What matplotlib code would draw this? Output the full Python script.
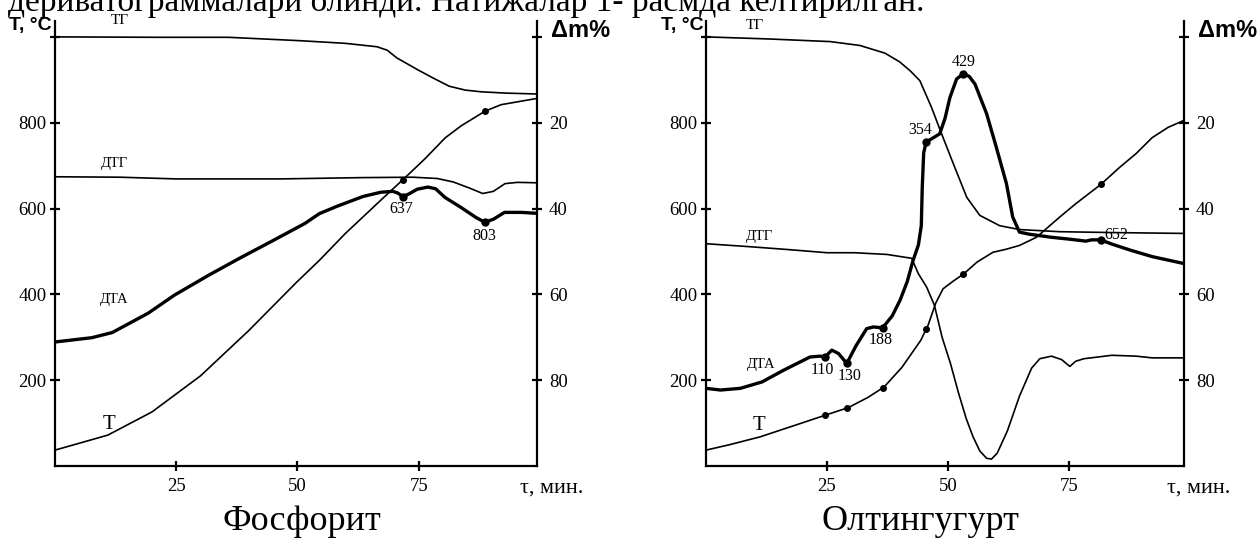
import matplotlib
matplotlib.use("Agg")
import matplotlib.pyplot as plt
import numpy as np

plt.rcParams['font.family'] = ['Liberation Serif', 'DejaVu Serif']

# Фосфорит: time (min) and readings
phos_time_t = [0, 10.9, 20.0, 30.0, 39.9, 49.8, 54.5, 59.8, 68.0, 72.2, 76.3, 80.5, 83.8, 88.7, 92.0, 99.1]
phos_t = [37, 72, 126, 210, 315, 428, 479, 541, 628, 672, 716, 765, 793, 827, 842, 856]

phos_time_dta = [0, 7.6, 11.8, 19.2, 24.6, 31.6, 38.2, 44.9, 51.5, 54.5, 58.1, 63.5, 67.2, 69.7, 70.7,
                 71.7, 73.0, 74.7, 76.9, 78.5, 80.4, 83.8, 86.7, 88.6, 90.4, 92.7, 96.2, 99.1]
phos_dta = [289, 299, 311, 356, 398, 444, 485, 525, 565, 588, 605, 628, 638, 640, 636,
            628, 634, 645, 650, 646, 626, 602, 580, 568, 575, 591, 591, 589]

phos_time_dtg = [0, 13.4, 25.0, 46.5, 63.1, 73.8, 78.8, 82.1, 85.4, 88.2, 90.4, 92.8, 95.4, 99.1]
phos_dtg = [674, 673, 669, 669, 672, 673, 670, 662, 648, 635, 640, 658, 661, 660]

phos_time_tg = [0, 21.7, 35.8, 50.7, 59.8, 66.4, 68.5, 70.5, 74.7, 78.0, 81.3, 84.6, 87.9, 92.9, 99.1]
phos_tg = [0, 0.1, 0.1, 0.9, 1.5, 2.3, 3.1, 4.9, 7.6, 9.6, 11.5, 12.4, 12.8, 13.1, 13.3]  # Δm, %

phos_peaks = [71.7, 88.6]
phos_peak_labels = ['637', '803']

# Олтингугурт
sulf_time_t = [0, 5.0, 11.2, 19.5, 24.8, 29.4, 33.5, 36.8, 40.5, 44.4, 45.9, 47.5, 49.0, 51.0,
               53.3, 56.0, 59.3, 62.0, 64.8, 68.3, 73.1, 76.4, 81.6, 85.5, 88.9, 92.2, 95.5, 98.7]
sulf_t = [37, 50, 68, 99, 119, 136, 160, 184, 230, 293, 328, 380, 413, 430,
          448, 475, 498, 505, 514, 533, 580, 611, 656, 696, 728, 765, 789, 805]

sulf_time_dta = [0, 3.0, 7.1, 11.6, 16.0, 21.5, 23.6, 24.6, 26.0, 27.4, 29.1, 31.0, 33.2, 34.6, 36.5,
                 38.5, 40.1, 41.6, 42.8, 43.9, 44.5, 44.7, 45.0, 45.5, 47.0, 48.3, 49.4, 50.4, 51.8,
                 53.2, 54.4, 55.6, 58.0, 60.0, 62.1, 63.4, 64.8, 66.9, 71.4, 75.6, 78.5, 79.7, 81.6,
                 83.9, 88.0, 92.2, 98.7]
sulf_dta = [181, 177, 181, 196, 223, 254, 256, 254, 270, 262, 239, 280, 320, 324, 322,
            350, 386, 430, 479, 515, 560, 650, 730, 755, 765, 774, 810, 858, 902,
            914, 908, 890, 821, 743, 658, 580, 545, 540, 533, 528, 524, 527, 527,
            517, 502, 488, 472]

sulf_time_dtg = [0, 9.1, 17.4, 25.0, 30.7, 37.4, 42.5, 43.9, 45.6, 47.2, 48.8, 50.5, 52.2, 53.8,
                 55.2, 56.6, 58.0, 59.0, 60.2, 62.3, 64.8, 67.3, 69.0, 71.4, 73.5, 75.2, 76.4,
                 78.1, 83.9, 88.9, 92.2, 98.7]
sulf_dtg = [518, 511, 504, 497, 497, 493, 484, 448, 417, 375, 300, 240, 170, 110,
            68, 35, 18, 16, 30, 82, 163, 228, 250, 256, 248, 232, 244,
            250, 258, 256, 252, 252]

sulf_time_tg = [0, 13.3, 25.7, 31.8, 37.0, 40.0, 42.2, 44.2, 46.6, 48.7, 51.1, 53.9, 56.6, 60.7,
                64.8, 73.1, 83.9, 98.7]
sulf_tg = [0, 0.5, 1.1, 2.0, 3.8, 5.8, 7.9, 10.2, 16.4, 22.6, 29.5, 37.4, 41.6, 44.0,
           44.9, 45.4, 45.6, 45.8]  # Δm, %

sulf_peaks = [24.6, 29.1, 36.5, 45.5, 53.2, 81.6]
sulf_peak_labels = ['110', '130', '188', '354', '429', '652']

t_ticks = [200, 400, 600, 800, 1000]
t_ticklabels = ['200', '400', '600', '800', '']
dm_ticks = [80, 60, 40, 20, 0]
dm_ticklabels = ['80', '60', '40', '20', '']
time_ticks = [25, 50, 75]

T_TOP = 1037
fig = plt.figure(figsize=(12.6, 5.39), dpi=100)

fig.text(8 / 1260, 1 - 11 / 539, 'дериватограммалари олинди. Натижалар 1- расмда келтирилган.',
         fontsize=24, va='baseline', ha='left')


def draw_panel(rect, xmax, tt, t, td, dta, tg_x, tg, tdg, dtg, peaks, peak_labels,
               label_offsets, curve_labels):
    ax = fig.add_axes(rect)
    ax2 = ax.twinx()
    ax.set_xlim(0, xmax)
    ax.set_ylim(0, T_TOP)
    ax2.set_ylim(100, 100 - T_TOP / 10)

    thin = dict(color='black', lw=1.2, solid_joinstyle='round')
    ax.plot(tt, t, **thin)
    ax.plot(tdg, dtg, **thin)
    ax.plot(td, dta, color='black', lw=2.4, solid_joinstyle='round', solid_capstyle='round')
    ax2.plot(tg_x, tg, **thin)

    # peaks on ДТА and the matching points on T
    py = np.interp(peaks, td, dta)
    ax.plot(peaks, py, 'o', color='black', ms=5)
    ax.plot(peaks, np.interp(peaks, tt, t), 'o', color='black', ms=4)
    for x, y, s, off in zip(peaks, py, peak_labels, label_offsets):
        ax.annotate(s, (x, y), xytext=off, textcoords='offset points',
                    ha='center', va='center', fontsize=11.5)

    for (x, y, s, fs) in curve_labels:
        ax.text(x, y, s, fontsize=fs, ha='center', va='center')

    for a in (ax, ax2):
        a.spines['top'].set_visible(False)
        for sp in a.spines.values():
            sp.set_linewidth(1.6)
    ax.spines['right'].set_visible(False)
    ax2.spines['left'].set_visible(False)
    ax2.spines['bottom'].set_visible(False)

    ax.set_xticks(time_ticks)
    ax.set_yticks(t_ticks, labels=t_ticklabels)
    ax2.set_yticks(dm_ticks, labels=dm_ticklabels)
    ax.tick_params(axis='x', direction='inout', length=7, width=1.6, labelsize=13.5, pad=5)
    ax.tick_params(axis='y', direction='inout', length=7, width=1.6, labelsize=13.5, pad=2.5)
    ax2.tick_params(axis='y', direction='inout', length=7, width=1.6, labelsize=13.5, pad=5)

    ax.text(-0.006, 0.99, 'T, °C', transform=ax.transAxes, ha='right', va='center',
            fontsize=14, fontweight='bold', family=['Liberation Sans Narrow', 'Liberation Sans'])
    ax.text(1.03, 0.978, 'Δm%', transform=ax.transAxes, ha='left', va='center',
            fontsize=17, fontweight='bold', family=['Liberation Sans Narrow', 'Liberation Sans'])
    ax.text(0.965, -0.049, 'τ, мин.', transform=ax.transAxes, ha='left', va='center', fontsize=16)
    return ax


draw_panel([55 / 1260, 73 / 539, 482 / 1260, 445 / 539], 99.4,
           phos_time_t, phos_t, phos_time_dta, phos_dta, phos_time_tg, phos_tg,
           phos_time_dtg, phos_dtg, phos_peaks, phos_peak_labels,
           [(-0.9, -9), (0, -9.7)],
           [(13.4, 1037, 'ТГ', 11), (12.2, 704, 'ДТГ', 10.5),
            (12.2, 388, 'ДТА', 10.5), (11.1, 96, 'Т', 15)])

draw_panel([706 / 1260, 73 / 539, 478 / 1260, 445 / 539], 98.8,
           sulf_time_t, sulf_t, sulf_time_dta, sulf_dta, sulf_time_tg, sulf_tg,
           sulf_time_dtg, sulf_dtg, sulf_peaks, sulf_peak_labels,
           [(-1.7, -9.4), (1.7, -8.7), (-1.2, -8.7), (-4.6, 8.4), (0, 8.2), (11, 3.2)],
           [(10.0, 1027, 'ТГ', 11), (11.0, 535, 'ДТГ', 10.5),
            (11.5, 237, 'ДТА', 10.5), (11.0, 95, 'Т', 15)])

fig.text(302 / 1260, 1 - 522 / 539, 'Фосфорит', fontsize=26, ha='center', va='center')
fig.text(920 / 1260, 1 - 522 / 539, 'Олтингугурт', fontsize=26, ha='center', va='center')

fig.savefig('out.png', dpi=100)
